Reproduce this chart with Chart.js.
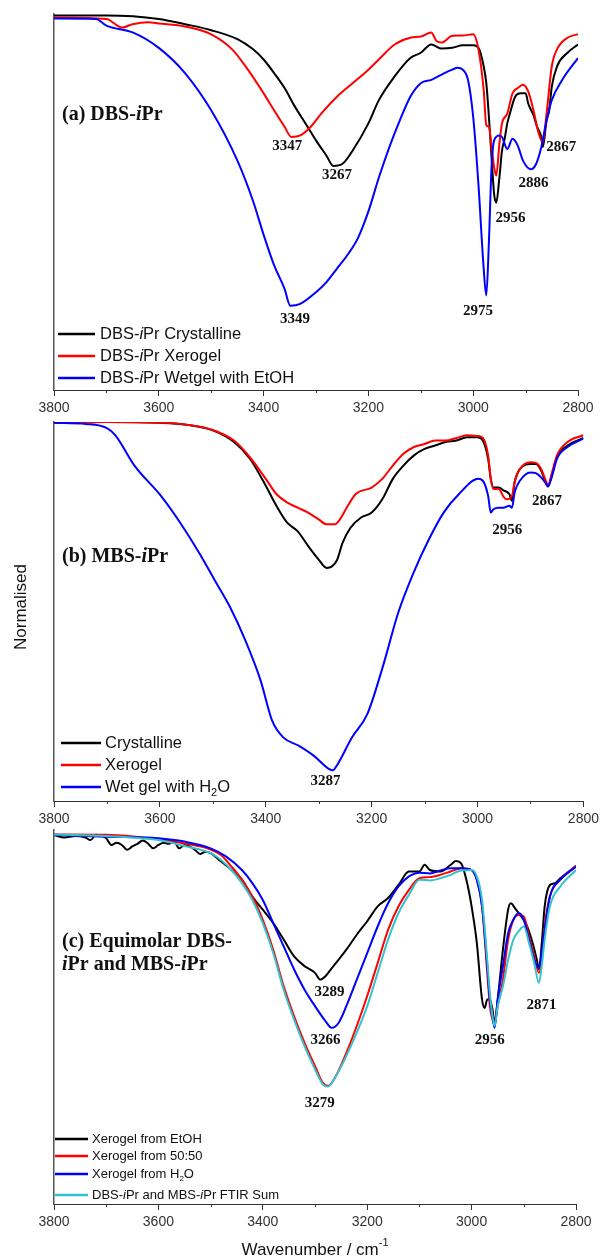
<!DOCTYPE html>
<html>
<head>
<meta charset="utf-8">
<title>FTIR spectra DBS-iPr / MBS-iPr</title>
<script src="https://cdn.jsdelivr.net/npm/chart.js@4.4.1/dist/chart.umd.min.js"></script>
<style>
  html, body { margin: 0; padding: 0; background: #fff; }
  #wrap { position: relative; width: 603px; height: 1258px; }
  #wrap canvas { position: absolute; left: 0; }
</style>
</head>
<body>
<div id="wrap">
  <canvas id="panel-a" width="603" height="415" style="top:0"></canvas>
  <canvas id="panel-b" width="603" height="411" style="top:415px"></canvas>
  <canvas id="panel-c" width="603" height="432" style="top:826px"></canvas>
</div>
<script>
// x axis (wavenumber, cm-1)
const xMajor = [3800, 3600, 3400, 3200, 3000, 2800];
const xMinor = [3700, 3500, 3300, 3100, 2900];

// ---- panel (a) DBS-iPr ----
const aBlackWn = [3800,3700,3600,3550,3500,3450,3420,3400,3380,3360,3340,3320,3300,3280,3267,3250,3230,3200,3180,3150,3120,3100,3080,3060,3040,3020,3000,2990,2980,2975,2970,2965,2960,2956,2950,2945,2940,2935,2930,2920,2910,2900,2895,2885,2878,2870,2867,2860,2855,2850,2840,2820,2800];
const aBlackT  = [99.6,99.6,98.7,97.3,95.7,93.3,90.6,87.9,84.3,80.3,75.3,70.9,66.4,62.3,59.6,60.1,63.7,70.9,77.1,83.4,88.3,89.7,91.9,90.8,91.0,91.7,91.7,91.0,86.1,81.6,72.6,61.9,52.0,49.8,56.5,63.7,66.8,70.9,73.5,78.0,78.9,78.9,76.2,73.1,70.0,67.3,64.6,71.7,74.4,80.7,86.1,89.7,91.9];
const aRedWn   = [3800,3700,3670,3650,3620,3600,3550,3500,3460,3430,3400,3380,3360,3347,3330,3310,3290,3260,3230,3200,3180,3150,3120,3100,3080,3070,3060,3040,3020,3000,2990,2980,2975,2970,2965,2960,2956,2950,2945,2935,2925,2915,2905,2895,2885,2875,2867,2860,2850,2840,2820,2800];
const aRedT    = [99.1,98.7,96.4,97.3,97.8,97.5,96.7,94.6,90.6,85.2,78.9,74.4,70.0,67.3,67.7,70.0,73.5,78.0,81.6,85.2,87.9,91.9,93.7,94.0,95.1,92.8,92.4,94.2,94.3,94.6,90.6,79.8,70.4,70.0,64.6,59.2,57.0,65.5,70.9,73.5,78.9,80.3,81.2,79.4,74.4,68.2,65.9,73.5,86.1,90.6,93.7,94.6];
const aBlueWn  = [3800,3720,3700,3650,3600,3550,3500,3450,3420,3400,3380,3360,3349,3330,3300,3280,3260,3240,3220,3200,3180,3160,3140,3120,3100,3080,3060,3040,3030,3020,3010,3000,2990,2980,2975,2970,2965,2960,2950,2945,2935,2925,2915,2905,2890,2880,2870,2860,2850,2830,2800];
const aBlueT   = [98.8,98.7,96.9,95.1,91.0,84.3,74.4,61.0,50.2,41.3,33.2,26.9,22.4,22.9,26.0,28.7,32.3,35.9,40.4,47.5,56.5,64.6,71.7,78.0,81.6,82.5,83.9,85.2,85.7,85.2,82.5,72.6,54.7,32.3,25.1,39.5,59.2,66.4,67.7,67.3,64.1,66.8,65.0,61.0,58.7,60.1,64.6,71.7,77.1,82.5,88.3];
const aPeakText = ['3347', '3267', '2956', '2886', '2867', '3349', '2975'];
const aPeakWn   = [3355, 3260, 2929, 2885, 2832, 3340, 2991];
const aPeakT    = [64.8, 57.2, 45.7, 54.9, 64.5, 18.8, 21.1];

// ---- panel (b) MBS-iPr ----
const bBlackWn = [3800,3700,3600,3550,3500,3460,3430,3400,3380,3360,3340,3320,3300,3285,3275,3265,3255,3240,3220,3200,3180,3160,3140,3120,3100,3080,3060,3040,3020,3000,2990,2980,2975,2970,2960,2950,2940,2935,2930,2920,2900,2890,2880,2870,2867,2860,2850,2830,2800];
const bBlackT  = [99.8,100,99.8,99.3,97.8,94.7,90.3,83.2,77.9,73.5,71.2,67.3,63.7,61.5,61.9,63.7,68.1,72.1,74.8,76.1,79.6,85.0,88.5,91.2,92.9,93.8,94.7,95.1,96.0,96.0,95.1,90.3,85.0,82.7,82.7,81.9,81.0,79.2,84.1,87.6,88.9,88.9,87.2,83.6,83.0,85.8,90.7,93.8,95.8];
const bRedWn   = [3800,3700,3600,3550,3500,3460,3430,3400,3380,3360,3340,3320,3300,3285,3270,3260,3245,3230,3200,3180,3160,3140,3120,3100,3080,3060,3040,3020,3000,2990,2980,2975,2970,2960,2950,2945,2935,2930,2920,2900,2890,2880,2870,2867,2860,2850,2830,2800];
const bRedT    = [99.8,100,99.8,99.3,97.9,95.1,90.7,85.0,81.0,78.8,77.4,76.1,74.3,73.0,73.0,74.3,77.9,81.0,82.7,85.0,88.5,91.6,93.4,94.2,95.1,95.1,95.8,96.5,96.3,95.8,91.2,85.0,82.3,82.3,80.1,79.6,80.5,84.1,87.6,89.4,89.2,87.6,84.1,83.2,86.3,91.2,94.7,96.5];
const bBlueWn  = [3800,3740,3700,3684,3648,3598,3562,3526,3497,3468,3439,3410,3388,3367,3338,3309,3280,3273,3266,3237,3208,3179,3150,3121,3092,3064,3035,2999,2990,2980,2975,2970,2960,2950,2940,2935,2930,2920,2900,2890,2880,2870,2867,2860,2850,2830,2800];
const bBlueT   = [99.8,99.5,98.4,96.5,88.5,80.5,73.5,65.5,58.4,51.3,42.5,31.9,21.2,16.8,14.6,11.9,8.4,8.1,9.3,16.8,23.0,35.4,49.6,60.2,69.0,76.1,81.0,85.0,84.5,80.5,76.1,77.0,77.4,77.4,77.9,77.4,81.4,84.5,86.7,86.5,85.4,83.6,83.0,85.4,90.3,93.4,95.6];
const bPeakText = ['2956', '2867', '3287'];
const bPeakWn   = [2944, 2869, 3287];
const bPeakT    = [71.5, 79.2, 5.3];

// ---- panel (c) equimolar mixture ----
const cBlackWn = [3800,3780,3760,3740,3730,3720,3700,3690,3680,3670,3660,3650,3640,3630,3620,3610,3600,3590,3580,3570,3560,3550,3540,3530,3520,3510,3500,3480,3460,3440,3420,3400,3380,3360,3340,3320,3300,3290,3280,3270,3260,3240,3220,3200,3180,3160,3140,3120,3100,3090,3080,3060,3040,3030,3020,3010,3000,2990,2980,2975,2970,2965,2960,2956,2950,2940,2930,2925,2915,2905,2895,2885,2875,2871,2865,2860,2850,2840,2830,2800];
const cBlackT  = [98.7,98.0,98.4,98.0,97.3,98.7,97.8,96.0,96.6,96.0,94.7,95.6,96.3,97.2,96.4,95.1,96.0,96.6,96.3,96.9,95.1,96.0,95.6,94.7,93.6,94.2,93.8,91.6,89.3,86.7,82.2,78.7,75.1,70.7,66.2,63.6,61.8,60.0,60.9,62.7,64.4,68.0,72.0,75.6,79.6,81.8,85.3,88.9,88.9,90.7,89.3,88.9,90.7,91.7,91.1,86.7,79.6,69.8,54.7,52.4,54.7,54.7,52.0,48.4,54.7,68.0,78.7,80.4,78.7,76.9,74.7,70.7,65.3,62.7,70.7,79.6,85.3,85.8,87.1,90.4];
const cRedWn   = [3800,3700,3600,3550,3500,3480,3460,3440,3420,3400,3380,3360,3340,3320,3300,3285,3275,3260,3240,3220,3200,3180,3160,3140,3120,3100,3080,3060,3040,3020,3000,2990,2980,2970,2965,2960,2956,2950,2940,2930,2920,2910,2900,2890,2880,2871,2865,2860,2850,2830,2800];
const cRedT    = [98.8,98.7,97.5,96.4,94.8,93.3,90.2,86.7,82.2,76.0,68.0,58.2,50.2,43.1,36.9,32.4,31.6,34.2,40.4,47.6,55.6,64.4,73.3,79.6,84.0,87.1,87.4,88.0,88.9,89.8,89.3,86.7,79.6,61.8,52.9,49.3,48.0,52.9,60.0,70.7,76.0,77.3,76.9,71.6,66.2,61.8,66.2,74.2,82.2,86.7,90.4];
const cBlueWn  = [3800,3700,3600,3550,3500,3470,3440,3420,3400,3380,3360,3340,3320,3300,3280,3268,3255,3240,3220,3200,3180,3160,3140,3120,3100,3080,3060,3040,3020,3000,2990,2980,2970,2965,2960,2956,2950,2940,2930,2920,2910,2900,2890,2880,2871,2865,2860,2850,2830,2800];
const cBlueT   = [98.7,98.2,97.8,96.9,95.1,92.9,89.3,85.8,81.3,75.1,68.9,62.7,57.3,52.9,48.9,47.1,48.4,52.9,60.0,67.1,74.2,80.4,84.9,87.6,88.6,88.4,89.2,89.8,89.8,89.3,86.7,79.6,63.6,54.7,50.2,47.1,54.7,63.6,72.4,76.0,77.8,76.0,70.7,65.3,63.1,68.0,73.3,82.2,86.7,90.2];
const cCyanWn  = [3800,3700,3600,3550,3500,3480,3460,3440,3420,3400,3380,3360,3340,3320,3300,3285,3275,3260,3240,3220,3200,3180,3160,3140,3120,3100,3080,3060,3040,3020,3000,2990,2980,2970,2965,2960,2956,2950,2940,2930,2920,2910,2900,2890,2880,2871,2865,2860,2850,2830,2800];
const cCyanT   = [98.8,98.4,97.3,95.7,93.8,92.0,89.3,85.8,81.3,75.1,67.1,57.3,49.3,42.2,36.0,32.0,31.4,34.2,39.6,45.8,52.9,61.8,70.7,77.8,82.7,86.7,86.5,87.1,88.0,89.2,89.3,87.6,81.3,65.3,56.4,50.2,47.6,52.9,58.2,65.3,70.7,72.9,74.2,69.8,64.4,59.1,64.4,70.7,79.6,84.9,89.3];
const cPeakText = ['3289', '3266', '3279', '2956', '2871'];
const cPeakWn   = [3272, 3280, 3291, 2965, 2866];
const cPeakT    = [56.6, 43.8, 27.1, 43.8, 53.3];

const SANS = "'Liberation Sans', Arial, sans-serif";
const SERIF = "'Liberation Serif', 'Times New Roman', serif";

// 把两个数组拼成点
function pts(wn, t) {
    return wn.map((w, i) => ({ x: w, y: t[i] }));
}

// 简单的富文本: <i>, <sub>, <sup>
function parseRich(str) {
    return str.split(/(<i>[^<]*<\/i>|<sub>[^<]*<\/sub>|<sup>[^<]*<\/sup>)/).filter(Boolean).map(s => {
        let m;
        if ((m = s.match(/^<i>(.*)<\/i>$/))) return { t: m[1], italic: true };
        if ((m = s.match(/^<sub>(.*)<\/sub>$/))) return { t: m[1], small: true, shift: 0.35 };
        if ((m = s.match(/^<sup>(.*)<\/sup>$/))) return { t: m[1], small: true, shift: -0.4 };
        return { t: s };
    });
}

function drawRich(ctx, str, x, y, font, align) {
    const segs = parseRich(str);
    const fontOf = s => (s.italic ? 'italic ' : '') + (font.weight || 'normal') + ' ' +
        (s.small ? Math.round(font.size * 0.65) : font.size) + 'px ' + font.family;
    let total = 0;
    segs.forEach(s => { ctx.font = fontOf(s); s.w = ctx.measureText(s.t).width; total += s.w; });
    let cx = align === 'center' ? x - total / 2 : x;
    ctx.textAlign = 'left';
    ctx.textBaseline = 'middle';
    segs.forEach(s => {
        ctx.font = fontOf(s);
        ctx.fillText(s.t, cx, y + (s.shift || 0) * font.size);
        cx += s.w;
    });
}

/**
 * 每个面板的文字: 标题, 峰标注, 图例, 次刻度
 */
function decorPlugin(cfg) {
    return {
        id: 'decor',
        afterDraw(chart) {
            const ctx = chart.ctx;
            const ca = chart.chartArea;
            const xs = chart.scales.x;
            const ys = chart.scales.y;
            ctx.save();

            // 次刻度
            ctx.strokeStyle = '#333';
            ctx.lineWidth = 1;
            xMinor.forEach(v => {
                const px = Math.round(xs.getPixelForValue(v)) + 0.5;
                ctx.beginPath();
                ctx.moveTo(px, ca.bottom);
                ctx.lineTo(px, ca.bottom + 3);
                ctx.stroke();
            });

            ctx.fillStyle = '#111';
            // 标题
            cfg.title.forEach((t, i) => {
                drawRich(ctx, t, ca.left + 8, ca.top + cfg.titleY[i], { size: 20, weight: 'bold', family: SERIF }, 'left');
            });

            // 峰位标注
            cfg.peakText.forEach((t, i) => {
                drawRich(ctx, t, xs.getPixelForValue(cfg.peakWn[i]), ys.getPixelForValue(cfg.peakT[i]),
                    { size: 15, weight: 'bold', family: SERIF }, 'center');
            });

            // 图例
            const lg = cfg.legend;
            cfg.series.forEach((s, i) => {
                const yy = ca.bottom + lg.rows[i];
                ctx.strokeStyle = s.color;
                ctx.lineWidth = 2.5;
                ctx.beginPath();
                ctx.moveTo(ca.left + lg.x0, yy);
                ctx.lineTo(ca.left + lg.x1, yy);
                ctx.stroke();
                ctx.fillStyle = '#111';
                drawRich(ctx, s.label, ca.left + lg.tx, yy, { size: lg.size, family: SANS }, 'left');
            });

            // 坐标轴标题
            if (cfg.yTitle) {
                ctx.save();
                ctx.translate(cfg.yTitle.x, cfg.yTitle.y);
                ctx.rotate(-Math.PI / 2);
                drawRich(ctx, cfg.yTitle.text, 0, 0, { size: 17, family: SANS }, 'center');
                ctx.restore();
            }
            if (cfg.xTitle) {
                drawRich(ctx, cfg.xTitle.text, (ca.left + ca.right) / 2, ca.bottom + cfg.xTitle.dy,
                    { size: 17, family: SANS }, 'center');
            }
            ctx.restore();
        }
    };
}

function createPanel(id, cfg) {
    const canvas = document.getElementById(id);
    const n = cfg.series.length;
    new Chart(canvas, {
        type: 'line',
        data: {
            datasets: cfg.series.map((s, i) => ({
                label: s.label,
                data: pts(s.wn, s.t),
                borderColor: s.color,
                borderWidth: 2,
                pointRadius: 0,
                fill: false,
                cubicInterpolationMode: 'monotone',
                order: n - i
            }))
        },
        options: {
            responsive: false,
            animation: false,
            events: [],
            layout: { padding: cfg.padding },
            plugins: {
                legend: { display: false },
                tooltip: { enabled: false }
            },
            scales: {
                x: {
                    type: 'linear',
                    reverse: true,
                    min: 2800,
                    max: 3800,
                    afterFit: s => { s.height = 25; },
                    afterBuildTicks: s => { s.ticks = xMajor.map(v => ({ value: v })); },
                    ticks: {
                        color: '#333',
                        padding: 4,
                        maxRotation: 0,
                        autoSkip: false,
                        font: { family: SANS, size: 14 },
                        callback: v => String(v)
                    },
                    grid: {
                        drawOnChartArea: false,
                        drawTicks: true,
                        tickLength: 6,
                        color: '#333',
                        tickColor: '#333'
                    },
                    border: { display: true, color: '#333', width: 1 }
                },
                y: {
                    type: 'linear',
                    min: 0,
                    max: 100,
                    afterFit: s => { s.width = 0; },
                    ticks: { display: false },
                    grid: { display: false, drawTicks: false },
                    border: { display: true, color: '#555', width: 1.5 }
                }
            }
        },
        plugins: [decorPlugin(cfg)]
    });
}

createPanel('panel-a', {
    padding: { top: 14, left: 54, right: 25, bottom: 0 },
    title: ['(a) DBS-<i>i</i>Pr'],
    titleY: [101],
    peakText: aPeakText, peakWn: aPeakWn, peakT: aPeakT,
    legend: { rows: [-56, -34, -12], x0: 4, x1: 41, tx: 46, size: 16.5 },
    series: [
        { label: 'DBS-<i>i</i>Pr Crystalline', color: '#000000', wn: aBlackWn, t: aBlackT },
        { label: 'DBS-<i>i</i>Pr Xerogel', color: '#ff0000', wn: aRedWn, t: aRedT },
        { label: 'DBS-<i>i</i>Pr Wetgel with EtOH', color: '#0000ff', wn: aBlueWn, t: aBlueT }
    ]
});

createPanel('panel-b', {
    padding: { top: 7, left: 54, right: 15, bottom: 0 },
    title: ['(b) MBS-<i>i</i>Pr'],
    titleY: [135],
    peakText: bPeakText, peakWn: bPeakWn, peakT: bPeakT,
    legend: { rows: [-58, -36, -14], x0: 7, x1: 47, tx: 51, size: 16.5 },
    yTitle: { text: 'Normalised', x: 21, y: 192 },
    series: [
        { label: 'Crystalline', color: '#000000', wn: bBlackWn, t: bBlackT },
        { label: 'Xerogel', color: '#ff0000', wn: bRedWn, t: bRedT },
        { label: 'Wet gel with H<sub>2</sub>O', color: '#0000ff', wn: bBlueWn, t: bBlueT }
    ]
});

createPanel('panel-c', {
    padding: { top: 4, left: 54, right: 27, bottom: 29 },
    title: ['(c) Equimolar DBS-', '<i>i</i>Pr and MBS-<i>i</i>Pr'],
    titleY: [112, 135],
    peakText: cPeakText, peakWn: cPeakWn, peakT: cPeakT,
    legend: { rows: [-65, -48, -30, -9], x0: 1, x1: 34, tx: 38, size: 13 },
    xTitle: { text: 'Wavenumber / cm<sup>-1</sup>', dy: 46 },
    series: [
        { label: 'Xerogel from EtOH', color: '#000000', wn: cBlackWn, t: cBlackT },
        { label: 'Xerogel from 50:50', color: '#ff0000', wn: cRedWn, t: cRedT },
        { label: 'Xerogel from H<sub>2</sub>O', color: '#0000ff', wn: cBlueWn, t: cBlueT },
        { label: 'DBS-<i>i</i>Pr and MBS-<i>i</i>Pr FTIR Sum', color: '#33c3cc', wn: cCyanWn, t: cCyanT }
    ]
});
</script>
</body>
</html>
